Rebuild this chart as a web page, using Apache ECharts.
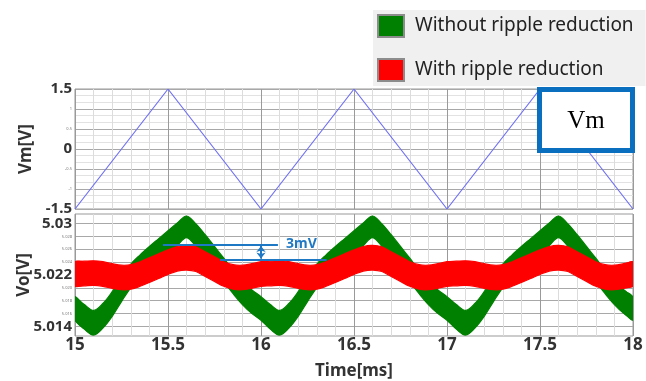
<!DOCTYPE html>
<html>
<head>
<meta charset="utf-8">
<script src="https://cdn.jsdelivr.net/npm/echarts@6/dist/echarts.min.js"></script>
<style>
html,body{margin:0;padding:0;background:#fff;}
#main{width:646px;height:381px;}
</style>
</head>
<body>
<div id="main"></div>
<script>
// ---- data ----
const vmTime = [15.0, 15.5, 16.0, 16.5, 17.0, 17.5, 18.0];
const vmValue = [-1.5, 1.5, -1.5, 1.5, -1.5, 1.5, -1.5];

const time = [15.00,15.05,15.10,15.15,15.20,15.25,15.30,15.35,15.40,15.45,15.50,15.55,15.60,15.65,15.70,15.75,15.80,15.85,15.90,15.95,
16.00,16.05,16.10,16.15,16.20,16.25,16.30,16.35,16.40,16.45,16.50,16.55,16.60,16.65,16.70,16.75,16.80,16.85,16.90,16.95,
17.00,17.05,17.10,17.15,17.20,17.25,17.30,17.35,17.40,17.45,17.50,17.55,17.60,17.65,17.70,17.75,17.80,17.85,17.90,17.95,18.00];

const greenUpper = [5.01863,5.01740,5.01648,5.01756,5.01940,5.02154,5.02369,5.02514,5.02644,5.02767,5.02890,5.03012,5.03119,5.02997,5.02828,5.02644,5.02461,5.02277,5.02108,5.01970,
5.01863,5.01740,5.01648,5.01756,5.01940,5.02154,5.02369,5.02514,5.02644,5.02767,5.02890,5.03012,5.03119,5.02997,5.02828,5.02644,5.02461,5.02277,5.02108,5.01970,
5.01863,5.01740,5.01648,5.01756,5.01940,5.02154,5.02369,5.02514,5.02644,5.02767,5.02890,5.03012,5.03119,5.02997,5.02828,5.02644,5.02461,5.02277,5.02108,5.01970,5.01863];
const greenLower = [5.01495,5.01357,5.01265,5.01373,5.01556,5.01786,5.02001,5.02146,5.02277,5.02399,5.02522,5.02660,5.02782,5.02644,5.02461,5.02277,5.02093,5.01909,5.01740,5.01602,
5.01495,5.01357,5.01265,5.01373,5.01556,5.01786,5.02001,5.02146,5.02277,5.02399,5.02522,5.02660,5.02782,5.02644,5.02461,5.02277,5.02093,5.01909,5.01740,5.01602,
5.01495,5.01357,5.01265,5.01373,5.01556,5.01786,5.02001,5.02146,5.02277,5.02399,5.02522,5.02660,5.02782,5.02644,5.02461,5.02277,5.02093,5.01909,5.01740,5.01602,5.01495];
const redUpper = [5.02407,5.02415,5.02422,5.02407,5.02376,5.02353,5.02361,5.02407,5.02468,5.02529,5.02591,5.02644,5.02660,5.02637,5.02560,5.02484,5.02407,5.02361,5.02353,5.02376,
5.02407,5.02415,5.02422,5.02407,5.02376,5.02353,5.02361,5.02407,5.02468,5.02529,5.02591,5.02644,5.02660,5.02637,5.02560,5.02484,5.02407,5.02361,5.02353,5.02376,
5.02407,5.02415,5.02422,5.02407,5.02376,5.02353,5.02361,5.02407,5.02468,5.02529,5.02591,5.02644,5.02660,5.02637,5.02560,5.02484,5.02407,5.02361,5.02353,5.02376,5.02407];
const redLower = [5.02024,5.02031,5.02039,5.02024,5.01993,5.01970,5.01978,5.02024,5.02085,5.02146,5.02208,5.02261,5.02277,5.02254,5.02177,5.02100,5.02024,5.01978,5.01970,5.01993,
5.02024,5.02031,5.02039,5.02024,5.01993,5.01970,5.01978,5.02024,5.02085,5.02146,5.02208,5.02261,5.02277,5.02254,5.02177,5.02100,5.02024,5.01978,5.01970,5.01993,
5.02024,5.02031,5.02039,5.02024,5.01993,5.01970,5.01978,5.02024,5.02085,5.02146,5.02208,5.02261,5.02277,5.02254,5.02177,5.02100,5.02024,5.01978,5.01970,5.01993,5.02024];

const vmBigTicks = [1.5, 0, -1.5];
const voTicks = [5.014, 5.016, 5.018, 5.020, 5.022, 5.024, 5.026, 5.028, 5.030];
const voBigTicks = [5.014, 5.022, 5.030];

const annoUpper = [[15.473, 5.02675], [16.091, 5.02675]];
const annoLower = [[15.78, 5.02434], [16.353, 5.02434]];
const annoArrow = [[16.0, 5.02652], [16.0, 5.02456]];
const annoText = [16.135, 5.02688];

const seriesNames = ['Without ripple reduction', 'With ripple reduction'];
// ---------------------------------------

const pair = (xs, ys) => xs.map((x, i) => [x, ys[i]]);
const near = (v, arr) => arr.some(a => Math.abs(a - v) < 1e-7);

// band drawn as a polygon between an upper and a lower edge, through the axis scales
function bandSeries(name, color, upper, lower) {
  return {
    type: 'custom', name: name, xAxisIndex: 1, yAxisIndex: 1, clip: true, silent: true,
    itemStyle: {color: color},
    data: [[time[0], upper[0]]],
    renderItem: function (params, api) {
      const top = time.map((t, i) => api.coord([t, upper[i]]));
      const bot = time.map((t, i) => api.coord([t, lower[i]])).reverse();
      return {
        type: 'group',
        children: [
          {type: 'polyline', shape: {points: top, smooth: 0.35}, style: {stroke: color, lineWidth: 1.2, fill: null}},
          {type: 'polyline', shape: {points: bot, smooth: 0.35}, style: {stroke: color, lineWidth: 1.2, fill: null}},
          {type: 'polygon', shape: {points: top.concat(bot), smooth: 0.35, smoothConstraint: false}, style: {fill: color}}
        ]
      };
    }
  };
}

const FONT = 'Noto Sans';
const labelRich = {
  b: {fontSize: 15, fontWeight: 'bold', color: '#333', fontFamily: FONT},
  s: {fontSize: 4, color: '#777', fontFamily: FONT}
};
const ANNO = '#1f78c4';

const chart = echarts.init(document.getElementById('main'), null, {renderer: 'canvas'});
const xCommon = {
  type: 'value', min: 15, max: 18, interval: 0.5,
  axisTick: {show: false},
  axisLine: {show: false},
  splitLine: {show: true, lineStyle: {color: '#9a9a9a', width: 1}},
  minorTick: {show: false, splitNumber: 5},
  minorSplitLine: {show: true, lineStyle: {color: '#dcdcdc', width: 1}}
};

chart.setOption({
  animation: false,
  backgroundColor: '#fff',
  textStyle: {fontFamily: FONT},
  grid: [
    {left: 75, top: 89, width: 558, height: 120, show: true, borderColor: '#999', borderWidth: 1},
    {left: 75, top: 214, width: 558, height: 124, show: true, borderColor: '#999', borderWidth: 1}
  ],
  legend: {
    orient: 'vertical', left: 373, top: 10,
    backgroundColor: '#f0f0f0',
    padding: [4, 12, 4, 4],
    itemGap: 20, itemWidth: 26, itemHeight: 22,
    icon: 'rect',
    selectedMode: false,
    textStyle: {fontSize: 19, color: '#222', fontFamily: FONT, padding: [0, 0, 0, 6]},
    data: [
      {name: seriesNames[0], itemStyle: {color: '#008000', borderColor: '#8c8c8c', borderWidth: 2}},
      {name: seriesNames[1], itemStyle: {color: '#ff0000', borderColor: '#8c8c8c', borderWidth: 2}}
    ]
  },
  xAxis: [
    Object.assign({gridIndex: 0, axisLabel: {show: false}}, xCommon),
    Object.assign({gridIndex: 1,
      axisLabel: {show: true, fontSize: 17, fontWeight: 'bold', color: '#333', margin: 1, fontFamily: FONT},
      name: 'Time[ms]', nameLocation: 'middle', nameGap: 27, nameMoveOverlap: false,
      nameTextStyle: {fontSize: 17, fontWeight: 'bold', color: '#333', fontFamily: FONT}
    }, xCommon)
  ],
  yAxis: [
    {
      gridIndex: 0, type: 'value', min: -1.5, max: 1.5, interval: 0.5,
      name: 'Vm[V]', nameLocation: 'middle', nameGap: 40, nameMoveOverlap: false,
      nameTextStyle: {fontSize: 17, fontWeight: 'bold', color: '#333', fontFamily: FONT},
      axisLine: {show: false}, axisTick: {show: false},
      axisLabel: {margin: 3, rich: labelRich,
        formatter: v => near(v, vmBigTicks) ? '{b|' + v + '}' : '{s|' + v + '}'},
      splitLine: {show: true, lineStyle: {color: '#a8a8a8'}},
      minorTick: {show: false, splitNumber: 3},
      minorSplitLine: {show: true, lineStyle: {color: '#e2e2e2'}}
    },
    {
      gridIndex: 1, type: 'value', min: 5.0125, max: 5.0315,
      name: 'Vo[V]', nameLocation: 'middle', nameGap: 42, nameMoveOverlap: false,
      nameTextStyle: {fontSize: 17, fontWeight: 'bold', color: '#333', fontFamily: FONT},
      axisLine: {show: false},
      axisTick: {show: false, customValues: voTicks},
      axisLabel: {margin: 3, rich: labelRich, customValues: voTicks,
        formatter: v => near(v, voBigTicks) ? '{b|' + (+v.toFixed(3)) + '}' : '{s|' + v.toFixed(3) + '}'},
      splitLine: {show: true, lineStyle: {color: '#a8a8a8'}}
    }
  ],
  series: [
    {
      type: 'line', name: 'Vm', xAxisIndex: 0, yAxisIndex: 0,
      data: pair(vmTime, vmValue), showSymbol: false, symbol: 'none',
      lineStyle: {color: '#7070f4', width: 1.2}, silent: true
    },
    bandSeries(seriesNames[0], '#008000', greenUpper, greenLower),
    bandSeries(seriesNames[1], '#ff0000', redUpper, redLower),
    {
      type: 'line', name: 'anno', xAxisIndex: 1, yAxisIndex: 1, data: [], silent: true, z: 10,
      markLine: {
        silent: true, symbol: ['none', 'none'], label: {show: false},
        lineStyle: {color: ANNO, width: 2, type: 'solid'},
        emphasis: {disabled: true},
        data: [
          [{coord: annoUpper[0]}, {coord: annoUpper[1]}],
          [{coord: annoLower[0]}, {coord: annoLower[1]}],
          [{coord: annoArrow[0], symbol: 'arrow', symbolSize: [7, 6]}, {coord: annoArrow[1], symbol: 'arrow', symbolSize: [7, 6]}]
        ]
      },
      markPoint: {
        silent: true, symbol: 'rect', symbolSize: [0, 0],
        label: {show: true, position: 'right', distance: 0, formatter: '3mV',
          fontSize: 14, fontWeight: 'bold', color: ANNO, fontFamily: FONT},
        data: [{coord: annoText}]
      }
    }
  ],
  graphic: [
    {type: 'rect', z: 100, shape: {x: 539.5, y: 89.5, width: 93, height: 61},
      style: {fill: '#fff', stroke: '#0b6fc0', lineWidth: 5}},
    {type: 'text', z: 101, x: 586, y: 121,
      style: {text: 'Vm', fontSize: 25, fontFamily: 'Liberation Serif', fill: '#000', align: 'center', verticalAlign: 'middle'}}
  ]
});
</script>
</body>
</html>
